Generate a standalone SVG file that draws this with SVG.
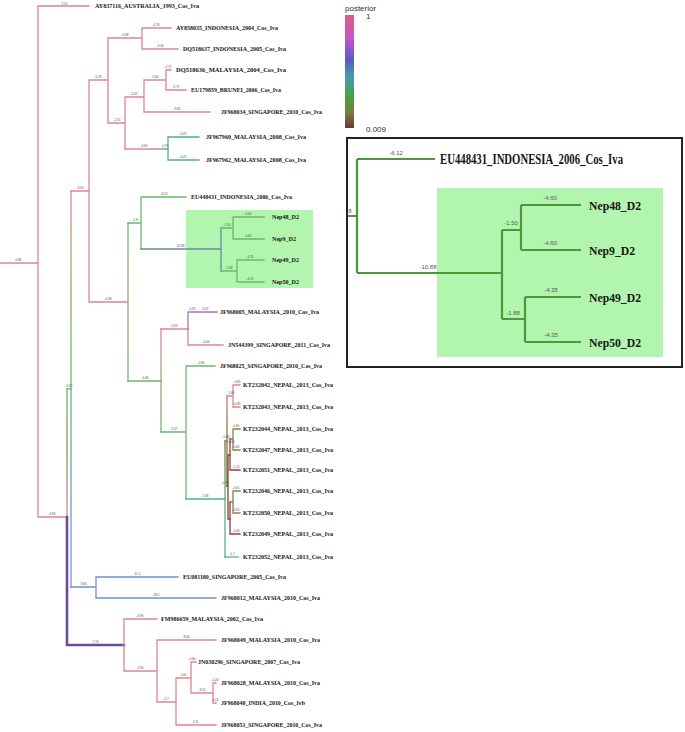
<svg xmlns="http://www.w3.org/2000/svg" width="685" height="732" viewBox="0 0 685 732">
<style>
.e{fill:none;stroke-width:1.3;stroke-linecap:square}
.pk{stroke:#e4848f}.tl{stroke:#4fb08e}.gr{stroke:#6cb86c}.bl{stroke:#6f8fd6}.pu{stroke:#6b4c9a;stroke-width:2.6}
.ol{stroke:#8a8040}.dr{stroke:#9a3545}.br{stroke:#7a4a30}.bg{stroke:#6a88a8}.pp{stroke:#b070c0}
.ie{fill:none;stroke:#4a9a3a;stroke-width:2.2}
.t{font-family:"Liberation Serif",serif;font-weight:bold;font-size:6.2px;fill:#151515}
.b{font-family:"Liberation Sans",sans-serif;font-size:3.2px;fill:#555;text-anchor:middle}
.ib{font-family:"Liberation Sans",sans-serif;font-size:6px;fill:#555;text-anchor:middle}
.it{font-family:"Liberation Serif",serif;font-weight:bold;font-size:14px;fill:#151515}
.in{font-family:"Liberation Serif",serif;font-weight:bold;font-size:13.5px;fill:#151515}
.lg{font-family:"Liberation Sans",sans-serif;font-size:8px;fill:#333}
</style>
<defs>
<linearGradient id="g71" gradientUnits="userSpaceOnUse" x1="0" y1="191" x2="0" y2="587">
<stop offset="0" stop-color="#e4848f"/><stop offset="0.2" stop-color="#9aa870"/><stop offset="0.45" stop-color="#6cb86c"/><stop offset="0.72" stop-color="#58aab0"/><stop offset="1" stop-color="#6f8fd6"/></linearGradient>
<linearGradient id="g67" gradientUnits="userSpaceOnUse" x1="0" y1="389" x2="0" y2="517">
<stop offset="0" stop-color="#6cb86c"/><stop offset="0.45" stop-color="#9a8a60"/><stop offset="1" stop-color="#e4848f"/></linearGradient>
<linearGradient id="g161" gradientUnits="userSpaceOnUse" x1="0" y1="329" x2="0" y2="432">
<stop offset="0" stop-color="#e4848f"/><stop offset="1" stop-color="#6cb86c"/></linearGradient>
<linearGradient id="g128" gradientUnits="userSpaceOnUse" x1="0" y1="223" x2="0" y2="381">
<stop offset="0" stop-color="#6cb86c"/><stop offset="0.5" stop-color="#a0a878"/><stop offset="1" stop-color="#6cb86c"/></linearGradient>
<linearGradient id="g149" gradientUnits="userSpaceOnUse" x1="125" y1="0" x2="168" y2="0">
<stop offset="0.5" stop-color="#e4848f"/><stop offset="1" stop-color="#4fb08e"/></linearGradient>
<linearGradient id="g225" gradientUnits="userSpaceOnUse" x1="0" y1="441" x2="0" y2="557">
<stop offset="0" stop-color="#8a7040"/><stop offset="0.5" stop-color="#5ab080"/><stop offset="1" stop-color="#5ab080"/></linearGradient>
<linearGradient id="g227" gradientUnits="userSpaceOnUse" x1="0" y1="396" x2="0" y2="486">
<stop offset="0" stop-color="#d9748c"/><stop offset="0.35" stop-color="#8a7a40"/><stop offset="1" stop-color="#7a5a30"/></linearGradient>
<linearGradient id="gleg" x1="0" y1="0" x2="0" y2="1">
<stop offset="0" stop-color="#d8607a"/><stop offset="0.2" stop-color="#c658c8"/><stop offset="0.4" stop-color="#5a5ac8"/><stop offset="0.55" stop-color="#40a0a8"/><stop offset="0.72" stop-color="#4aa048"/><stop offset="0.87" stop-color="#7a7a3a"/><stop offset="1" stop-color="#6a3a3a"/></linearGradient>
</defs>
<rect width="685" height="732" fill="#fff"/>

<g id="legend">
<text class="lg" x="345" y="11">posterior</text>
<rect x="345" y="15" width="9" height="113" fill="url(#gleg)"/>
<text class="lg" x="366" y="19">1</text>
<text class="lg" x="366" y="132">0.009</text>
</g>

<rect id="highlight" x="186" y="210" width="127" height="78" fill="#b2f5ae"/>

<g id="connectors">
<path class="e pk" d="M0 263H38M38 6V517M38 6H89M38 517H67"/>
<path class="e" stroke="url(#g67)" d="M67 389V517"/>
<path class="e pu" d="M67 517V645M67 645H124"/>
<path class="e gr" d="M67 389H71"/>
<path class="e" stroke="url(#g71)" d="M71 191V587"/>
<path class="e pk" d="M71 191H89M89 80V302M89 80H108M108 38V123M108 38H142M142 28V49M142 28H171M142 49H178M108 123H125M125 97V149M125 97H144M144 80V112M144 80H166M166 70V90M166 70H171M166 90H186M144 112H210M89 302H128"/>
<path class="e" stroke="url(#g149)" d="M125 149H168"/>
<path class="e tl" d="M168 137V160M168 137H199M168 160H199"/>
<path class="e" stroke="url(#g128)" d="M128 223V381"/>
<path class="e gr" d="M128 223H141M141 197V249M141 197H186M128 381H161"/>
<path class="e bg" d="M141 249H221M221 228V271"/>
<path class="e gr" d="M221 228H233M233 217V239M233 217H264M233 239H264M221 271H237M237 260V282M237 260H264M237 282H264"/>
<path class="e" stroke="url(#g161)" d="M161 329V432"/>
<path class="e pk" d="M161 329H188M188 329V345M188 345H223"/>
<path class="e pp" d="M188 312V329M188 312H217"/>
<path class="e gr" d="M161 432H186M186 366V499M186 366H215"/>
<path class="e tl" d="M186 499H225"/>
<path class="e" stroke="url(#g225)" d="M225 441V557"/>
<path class="e tl" d="M225 557H238"/>
<path class="e ol" d="M225 441H227"/>
<path class="e" stroke="url(#g227)" d="M227 396V486"/>
<path class="e pk" d="M227 396H233M233 385V407M233 385H240M233 407H240"/>
<path class="e br" d="M227 486H228M228 455V519M228 455H230M228 519H230"/>
<path class="e dr" d="M230 439V470M230 470H240M230 502V534M230 534H240"/>
<path class="e ol" d="M230 439H233M233 429V450M233 429H240M233 450H240M230 502H233M233 491V513M233 491H240M233 513H240"/>
<path class="e bl" d="M71 587H96M96 577V598M96 577H178M96 598H216"/>
<path class="e pk" d="M124 619V671M124 619H157M124 671H157M157 640V702M157 640H216M157 702H176M176 678V725M176 678H191M191 662V693M191 662H196M191 693H213M213 683V703M213 683H216M213 703H216M176 725H216"/>

<g id="branch-labels">
<text class="b" x="18" y="261">-0.86</text>
<text class="b" x="64" y="4.5">-7.52</text>
<text class="b" x="52" y="515">-3.69</text>
<text class="b" x="69" y="387">-0.55</text>
<text class="b" x="80" y="189">-3.59</text>
<text class="b" x="98" y="78">-0.76</text>
<text class="b" x="125" y="36">-3.38</text>
<text class="b" x="156" y="26">-4.76</text>
<text class="b" x="160" y="47">-3.16</text>
<text class="b" x="117" y="121">-2.55</text>
<text class="b" x="134" y="95">-2.05</text>
<text class="b" x="155" y="78">-2.60</text>
<text class="b" x="168" y="68">-2.71</text>
<text class="b" x="176" y="88">-2.71</text>
<text class="b" x="177" y="110">-9.82</text>
<text class="b" x="144" y="147">-4.90</text>
<text class="b" x="165" y="147">0.79</text>
<text class="b" x="183" y="135">-4.47</text>
<text class="b" x="183" y="158">-4.47</text>
<text class="b" x="108" y="300">-0.38</text>
<text class="b" x="135" y="221">-1.8</text>
<text class="b" x="164" y="195">-6.12</text>
<text class="b" x="180" y="247">-10.88</text>
<text class="b" x="227" y="226">-1.50</text>
<text class="b" x="248" y="215">-4.60</text>
<text class="b" x="248" y="237">-4.60</text>
<text class="b" x="229" y="269">-1.88</text>
<text class="b" x="250" y="258">-4.35</text>
<text class="b" x="250" y="280">-4.35</text>
<text class="b" x="145" y="379">-4.46</text>
<text class="b" x="174" y="327">-3.53</text>
<text class="b" x="192" y="310">-0.90</text>
<text class="b" x="205" y="310">-3.07</text>
<text class="b" x="206" y="343">-4.06</text>
<text class="b" x="174" y="430">-3.47</text>
<text class="b" x="201" y="364">-0.80</text>
<text class="b" x="205" y="497">-5.36</text>
<text class="b" x="232" y="555">-1.7</text>
<text class="b" x="231" y="394">-1.66</text>
<text class="b" x="237" y="383">-0.85</text>
<text class="b" x="237" y="405">-0.85</text>
<text class="b" x="236" y="427">-0.65</text>
<text class="b" x="236" y="448">-0.65</text>
<text class="b" x="226" y="438">-0.84</text>
<text class="b" x="231" y="443">-0.09</text>
<text class="b" x="236" y="468">-1.74</text>
<text class="b" x="225" y="484">-0.79</text>
<text class="b" x="236" y="489">-0.65</text>
<text class="b" x="236" y="511">-0.65</text>
<text class="b" x="236" y="532">-1.06</text>
<text class="b" x="83" y="585">-3.66</text>
<text class="b" x="137" y="575">-11.5</text>
<text class="b" x="156" y="596">-18.5</text>
<text class="b" x="95" y="643">-7.74</text>
<text class="b" x="140" y="617">-4.96</text>
<text class="b" x="140" y="669">-5.96</text>
<text class="b" x="186" y="638">-8.03</text>
<text class="b" x="166" y="700">-2.7</text>
<text class="b" x="183" y="676">-1.65</text>
<text class="b" x="192" y="660">-0.60</text>
<text class="b" x="202" y="691">-3.52</text>
<text class="b" x="215" y="681">-0.24</text>
<text class="b" x="215" y="701">-0.24</text>
<text class="b" x="195" y="723">-5.8</text>
</g>
</g>

<g id="tip-AY837116"><text class="t" x="95" y="8" textLength="104" lengthAdjust="spacingAndGlyphs">AY837116_AUSTRALIA_1993_Cos_Iva</text></g>
<g id="tip-AY858035"><text class="t" x="176" y="30" textLength="102" lengthAdjust="spacingAndGlyphs">AY858035_INDONESIA_2004_Cos_Iva</text></g>
<g id="tip-DQ518637"><text class="t" x="183" y="51" textLength="103" lengthAdjust="spacingAndGlyphs">DQ518637_INDONESIA_2005_Cos_Iva</text></g>
<g id="tip-DQ518636"><text class="t" x="176" y="72" textLength="110" lengthAdjust="spacingAndGlyphs">DQ518636_MALAYSIA_2004_Cos_Iva</text></g>
<g id="tip-EU179859"><text class="t" x="191" y="92" textLength="90" lengthAdjust="spacingAndGlyphs">EU179859_BRUNEI_2006_Cos_Iva</text></g>
<g id="tip-JF968034"><text class="t" x="221" y="114" textLength="101" lengthAdjust="spacingAndGlyphs">JF968034_SINGAPORE_2010_Cos_Iva</text></g>
<g id="tip-JF967960"><text class="t" x="206" y="139" textLength="100" lengthAdjust="spacingAndGlyphs">JF967960_MALAYSIA_2008_Cos_Iva</text></g>
<g id="tip-JF967962"><text class="t" x="206" y="162" textLength="100" lengthAdjust="spacingAndGlyphs">JF967962_MALAYSIA_2008_Cos_Iva</text></g>
<g id="tip-EU448431"><text class="t" x="191" y="199" textLength="101" lengthAdjust="spacingAndGlyphs">EU448431_INDONESIA_2006_Cos_Iva</text></g>
<g id="tip-Nep48"><text class="t" x="272" y="219" textLength="27" lengthAdjust="spacingAndGlyphs">Nep48_D2</text></g>
<g id="tip-Nep9"><text class="t" x="272" y="241" textLength="24" lengthAdjust="spacingAndGlyphs">Nep9_D2</text></g>
<g id="tip-Nep49"><text class="t" x="272" y="262" textLength="27" lengthAdjust="spacingAndGlyphs">Nep49_D2</text></g>
<g id="tip-Nep50"><text class="t" x="272" y="284" textLength="27" lengthAdjust="spacingAndGlyphs">Nep50_D2</text></g>
<g id="tip-JF968005"><text class="t" x="220" y="314" textLength="99" lengthAdjust="spacingAndGlyphs">JF968005_MALAYSIA_2010_Cos_Iva</text></g>
<g id="tip-JN544399"><text class="t" x="228" y="347" textLength="102" lengthAdjust="spacingAndGlyphs">JN544399_SINGAPORE_2011_Cos_Iva</text></g>
<g id="tip-JF968025"><text class="t" x="220" y="368" textLength="102" lengthAdjust="spacingAndGlyphs">JF968025_SINGAPORE_2010_Cos_Iva</text></g>
<g id="tip-KT232042"><text class="t" x="243" y="387" textLength="90" lengthAdjust="spacingAndGlyphs">KT232042_NEPAL_2013_Cos_Iva</text></g>
<g id="tip-KT232043"><text class="t" x="243" y="409" textLength="90" lengthAdjust="spacingAndGlyphs">KT232043_NEPAL_2013_Cos_Iva</text></g>
<g id="tip-KT232044"><text class="t" x="243" y="431" textLength="90" lengthAdjust="spacingAndGlyphs">KT232044_NEPAL_2013_Cos_Iva</text></g>
<g id="tip-KT232047"><text class="t" x="243" y="452" textLength="90" lengthAdjust="spacingAndGlyphs">KT232047_NEPAL_2013_Cos_Iva</text></g>
<g id="tip-KT232051"><text class="t" x="243" y="472" textLength="90" lengthAdjust="spacingAndGlyphs">KT232051_NEPAL_2013_Cos_Iva</text></g>
<g id="tip-KT232046"><text class="t" x="243" y="493" textLength="90" lengthAdjust="spacingAndGlyphs">KT232046_NEPAL_2013_Cos_Iva</text></g>
<g id="tip-KT232050"><text class="t" x="243" y="515" textLength="90" lengthAdjust="spacingAndGlyphs">KT232050_NEPAL_2013_Cos_Iva</text></g>
<g id="tip-KT232049"><text class="t" x="243" y="536" textLength="90" lengthAdjust="spacingAndGlyphs">KT232049_NEPAL_2013_Cos_Iva</text></g>
<g id="tip-KT232052"><text class="t" x="243" y="559" textLength="90" lengthAdjust="spacingAndGlyphs">KT232052_NEPAL_2013_Cos_Iva</text></g>
<g id="tip-EU081180"><text class="t" x="183" y="579" textLength="103" lengthAdjust="spacingAndGlyphs">EU081180_SINGAPORE_2005_Cos_Iva</text></g>
<g id="tip-JF968012"><text class="t" x="221" y="600" textLength="99" lengthAdjust="spacingAndGlyphs">JF968012_MALAYSIA_2010_Cos_Iva</text></g>
<g id="tip-FM986659"><text class="t" x="161" y="621" textLength="102" lengthAdjust="spacingAndGlyphs">FM986659_MALAYSIA_2002_Cos_Iva</text></g>
<g id="tip-JF968049"><text class="t" x="221" y="642" textLength="99" lengthAdjust="spacingAndGlyphs">JF968049_MALAYSIA_2010_Cos_Iva</text></g>
<g id="tip-JN030296"><text class="t" x="198" y="664" textLength="102" lengthAdjust="spacingAndGlyphs">JN030296_SINGAPORE_2007_Cos_Iva</text></g>
<g id="tip-JF968028"><text class="t" x="221" y="685" textLength="99" lengthAdjust="spacingAndGlyphs">JF968028_MALAYSIA_2010_Cos_Iva</text></g>
<g id="tip-JF968040"><text class="t" x="221" y="705" textLength="84" lengthAdjust="spacingAndGlyphs">JF968040_INDIA_2010_Cos_Ivb</text></g>
<g id="tip-JF968051"><text class="t" x="221" y="727" textLength="101" lengthAdjust="spacingAndGlyphs">JF968051_SINGAPORE_2010_Cos_Iva</text></g>

<g id="inset">
<rect x="347" y="138" width="335" height="229" fill="#fff" stroke="#222" stroke-width="2"/>
<rect x="437" y="188" width="226" height="169" fill="#b2f5ae"/>
<g id="inset-connectors">
<path class="ie" d="M348 216H357M357 159V273M357 159H435"/>
<path class="ie" stroke="#5a8aa0" d="M357 273H502M502 230V319"/>
<path class="ie" d="M502 230H521M521 205V250M521 205H581M521 250H581M502 319H525M525 297V342M525 297H581M525 342H581"/>
<text class="ib" x="350" y="213">8</text>
<text class="ib" x="396" y="155">-6.12</text>
<text class="ib" x="428" y="269">-10.88</text>
<text class="ib" x="511" y="225">-1.50</text>
<text class="ib" x="550" y="200">-4.60</text>
<text class="ib" x="550" y="245">-4.60</text>
<text class="ib" x="513" y="315">-1.88</text>
<text class="ib" x="551" y="292">-4.35</text>
<text class="ib" x="551" y="337">-4.35</text>
</g>
<g id="inset-EU448431"><text class="it" x="440" y="164" textLength="183" lengthAdjust="spacingAndGlyphs">EU448431_INDONESIA_2006_Cos_Iva</text></g>
<g id="inset-Nep48"><text class="in" x="589" y="210" textLength="52" lengthAdjust="spacingAndGlyphs">Nep48_D2</text></g>
<g id="inset-Nep9"><text class="in" x="589" y="255" textLength="46" lengthAdjust="spacingAndGlyphs">Nep9_D2</text></g>
<g id="inset-Nep49"><text class="in" x="589" y="302" textLength="52" lengthAdjust="spacingAndGlyphs">Nep49_D2</text></g>
<g id="inset-Nep50"><text class="in" x="589" y="347" textLength="52" lengthAdjust="spacingAndGlyphs">Nep50_D2</text></g>
</g>
</svg>
